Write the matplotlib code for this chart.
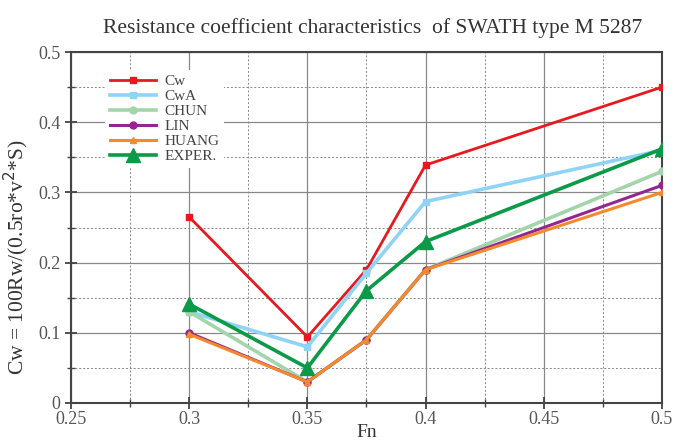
import matplotlib
matplotlib.use("Agg")
import matplotlib.pyplot as plt
from matplotlib.ticker import MultipleLocator

plt.rcParams['font.family'] = ['Liberation Serif', 'DejaVu Serif']

fn = [0.3, 0.35, 0.375, 0.4, 0.5]
cw = [0.265, 0.094, 0.19, 0.339, 0.45]
cwa = [0.13, 0.08, 0.185, 0.287, 0.36]
chun = [0.13, 0.03, 0.09, 0.19, 0.33]
lin = [0.10, 0.03, 0.09, 0.19, 0.31]
huang = [0.098, 0.03, 0.09, 0.19, 0.30]
exper = [0.141, 0.05, 0.16, 0.23, 0.362]

xticks = [0.25, 0.3, 0.35, 0.4, 0.45, 0.5]
xlabels = ['0.25', '0.3', '0.35', '0.4', '0.45', '0.5']
yticks = [0, 0.1, 0.2, 0.3, 0.4, 0.5]
ylabels = ['0', '0.1', '0.2', '0.3', '0.4', '0.5']

fig = plt.figure(figsize=(6.85, 4.43), dpi=100)
ax = fig.add_axes([0.1036, 0.0903, 0.8628, 0.7923])

ax.plot(fn, cw, color='#e8191e', lw=2, marker='s', ms=5, label='Cw', zorder=3)
ax.plot(fn, cwa, color='#8fd3f6', lw=2.6, marker='s', ms=5, label='CwA', zorder=3)
ax.plot(fn, chun, color='#a3d5ab', lw=2.6, marker='o', ms=5, label='CHUN', zorder=3)
ax.plot(fn, lin, color='#93278f', lw=2.2, marker='o', ms=5, label='LIN', zorder=3)
ax.plot(fn, huang, color='#f58a2c', lw=2.2, marker='^', ms=5, label='HUANG', zorder=3)
ax.plot(fn, exper, color='#0a9a48', lw=2.6, marker='^', ms=10, label='EXPER.', zorder=4)

ax.set_xlim(0.25, 0.5)
ax.set_ylim(0, 0.5)
ax.set_xticks(xticks)
ax.set_xticklabels(xlabels)
ax.set_yticks(yticks)
ax.set_yticklabels(ylabels)
ax.xaxis.set_minor_locator(MultipleLocator(0.025))
ax.yaxis.set_minor_locator(MultipleLocator(0.05))

ax.grid(which='major', color='#888888', lw=0.9, ls='-')
ax.grid(which='minor', color='#888888', lw=0.7, ls=(0, (2, 2)))
ax.set_axisbelow(True)

ax.tick_params(which='major', direction='inout', length=8, width=1.3, colors='#444444',
               labelsize=13, labelcolor='#555555')
ax.tick_params(axis='x', which='major', pad=2)
ax.tick_params(which='minor', direction='inout', length=6, width=1.0, colors='#444444')
for s in ax.spines.values():
    s.set_color('#444444')
    s.set_linewidth(1.5)

ax.set_title('Resistance coefficient characteristics  of SWATH type M 5287',
             fontsize=15.5, color='#333333', pad=14, x=0.51)
ax.set_ylabel('Cw = 100Rw/(0.5ro*v$^2$*S)', fontsize=15.5, color='#333333')
ax.yaxis.set_label_coords(-0.068, 0.415)
ax.set_xlabel('Fn', fontsize=14, color='#333333', labelpad=-3)

leg = ax.legend(loc='upper left', bbox_to_anchor=(0.045, 0.97), fontsize=11,
                frameon=True, fancybox=False, edgecolor='none', framealpha=1,
                handlelength=3.0, handletextpad=0.6, labelspacing=0.08, borderpad=0.3)
for t in leg.get_texts():
    t.set_color('#444444')

fig.savefig('out.png', dpi=100)
